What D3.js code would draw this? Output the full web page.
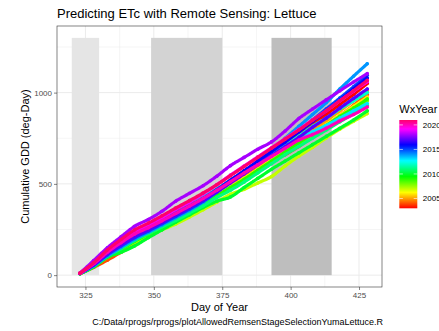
<!DOCTYPE html>
<html>
<head>
<meta charset="utf-8">
<script src="https://cdn.jsdelivr.net/npm/d3@7"></script>
<style>
  body { margin: 0; background: #fff; }
  svg { display: block; font-family: "Liberation Sans", Arial, sans-serif; }
</style>
</head>
<body>
<div id="chart"></div>
<script>
// sample days (day of year, continuing past 365)
const days = [323,328,333,338,343,348,353,358,363,368,373,378,383,388,393,398,403,408,413,418,423,428];
const years = [2003,2004,2005,2006,2007,2008,2009,2010,2011,2012,2013,2014,2015,2016,2017,2018,2019,2020,2021];

// cumulative GDD per weather year, read at the sample days
const gdd2003 = [10,62,130,185,235,270,305,345,385,425,470,520,570,620,670,720,770,825,880,935,990,1050];
const gdd2004 = [8,42,82,125,165,212,262,305,345,390,440,490,540,590,630,660,705,760,820,875,930,990];
const gdd2005 = [9,55,115,165,210,245,285,325,365,405,450,500,550,600,645,690,740,790,845,900,955,1010];
const gdd2006 = [9,52,108,155,200,235,275,315,355,395,440,485,530,580,630,680,730,775,825,875,925,975];
const gdd2007 = [8,48,98,140,180,215,248,280,318,358,400,443,470,505,540,598,652,700,752,800,843,885];
const gdd2008 = [9,50,105,150,195,232,270,305,345,385,430,475,520,570,620,670,720,765,815,860,910,955];
const gdd2009 = [8,47,100,140,185,225,265,305,345,390,435,480,525,575,625,675,725,775,820,870,915,965];
const gdd2010 = [8,45,98,125,160,205,248,290,330,370,405,428,480,530,580,625,670,715,760,805,850,900];
const gdd2011 = [9,50,105,145,190,228,265,300,340,380,425,465,510,560,610,660,705,750,795,840,885,930];
const gdd2012 = [10,58,120,170,215,250,290,330,372,415,460,510,560,610,660,710,762,815,860,910,955,1000];
const gdd2013 = [10,62,128,180,228,262,300,340,380,425,470,520,565,610,655,700,745,785,820,860,900,940];
const gdd2014 = [10,52,105,152,197,235,275,315,355,400,455,510,565,625,685,750,815,880,945,1020,1090,1158];
const gdd2015 = [9,55,112,160,205,242,282,322,362,405,455,508,562,618,675,730,790,850,910,970,1032,1095];
const gdd2016 = [10,60,122,175,222,258,298,338,378,420,468,520,572,625,678,730,785,842,900,958,1020,1080];
const gdd2017 = [9,56,115,165,210,248,288,328,368,410,455,505,555,605,655,705,755,810,860,915,968,1020];
const gdd2018 = [11,80,150,210,268,305,350,405,448,490,542,600,645,690,730,790,858,910,960,1010,1058,1104];
const gdd2019 = [10,65,132,188,238,275,315,360,400,445,495,548,598,648,698,748,798,850,900,955,1008,1060];
const gdd2020 = [10,62,125,178,225,260,298,338,378,420,465,512,560,605,650,695,740,770,805,845,880,921];
const gdd2021 = [11,68,138,195,248,285,325,368,408,450,495,545,595,645,695,745,795,848,900,955,1010,1067];

// growth stage windows (shaded)
const stageStart = [320, 349, 393];
const stageEnd = [330, 375, 415];
const stageTop = 1300;

const xTicks = [325, 350, 375, 400, 425];
const xMinor = [337.5, 362.5, 387.5, 412.5];
const yTicks = [0, 500, 1000];
const yMinor = [250, 750, 1250];
const legendTicks = [2005, 2010, 2015, 2020];

const gddSeries = [gdd2003,gdd2004,gdd2005,gdd2006,gdd2007,gdd2008,gdd2009,gdd2010,gdd2011,gdd2012,
                   gdd2013,gdd2014,gdd2015,gdd2016,gdd2017,gdd2018,gdd2019,gdd2020,gdd2021];

const width = 439, height = 331;
const pLeft = 57, pRight = 382, pTop = 26, pBottom = 287;
const stageFills = ['#e5e5e5', '#d3d3d3', '#bebebe'];

const svg = d3.select('#chart').append('svg')
    .attr('width', width)
    .attr('height', height);

svg.append('rect').attr('width', width).attr('height', height).attr('fill', '#fff');

const x = d3.scaleLinear().domain([314.6, 433.4]).range([pLeft, pRight]);
const y = d3.scaleLinear().domain([-65, 1365]).range([pBottom, pTop]);
const hue = d3.scaleLinear().domain([2003, 2021]).range([0, 335]);
const colorOf = yr => d3.hsl(hue(yr), 1, 0.5).formatHex();

// grid
const grid = svg.append('g').attr('stroke', '#ebebeb').attr('fill', 'none');
grid.selectAll('.xminor').data(xMinor).enter().append('line')
    .attr('x1', d => x(d)).attr('x2', d => x(d)).attr('y1', pTop).attr('y2', pBottom)
    .attr('stroke-width', 0.5);
grid.selectAll('.yminor').data(yMinor).enter().append('line')
    .attr('y1', d => y(d)).attr('y2', d => y(d)).attr('x1', pLeft).attr('x2', pRight)
    .attr('stroke-width', 0.5);
grid.selectAll('.xmajor').data(xTicks).enter().append('line')
    .attr('x1', d => x(d)).attr('x2', d => x(d)).attr('y1', pTop).attr('y2', pBottom)
    .attr('stroke-width', 1);
grid.selectAll('.ymajor').data(yTicks).enter().append('line')
    .attr('y1', d => y(d)).attr('y2', d => y(d)).attr('x1', pLeft).attr('x2', pRight)
    .attr('stroke-width', 1);

// stage windows
svg.append('g').selectAll('rect')
    .data(stageStart)
    .enter().append('rect')
    .attr('x', d => x(d))
    .attr('width', (d, i) => x(stageEnd[i]) - x(d))
    .attr('y', y(stageTop))
    .attr('height', y(0) - y(stageTop))
    .attr('fill', (d, i) => stageFills[i]);

// series
const line = d3.line()
    .x((d, i) => x(days[i]))
    .y(d => y(d))
    .curve(d3.curveMonotoneX);

const seriesG = svg.append('g');
gddSeries.forEach((vals, k) => {
    const col = colorOf(years[k]);
    seriesG.append('path')
        .attr('d', line(vals))
        .attr('fill', 'none')
        .attr('stroke', col)
        .attr('stroke-width', 3.2)
        .attr('stroke-linecap', 'round')
        .attr('stroke-linejoin', 'round')
        .attr('stroke-dasharray', '2.2,0.6');
    seriesG.selectAll(null).data(vals).enter().append('circle')
        .attr('cx', (d, i) => x(days[i]))
        .attr('cy', d => y(d))
        .attr('r', 1.8)
        .attr('fill', col);
});

// panel border
svg.append('rect')
    .attr('x', pLeft).attr('y', pTop)
    .attr('width', pRight - pLeft).attr('height', pBottom - pTop)
    .attr('fill', 'none').attr('stroke', '#333').attr('stroke-width', 0.6);

// axes
const xAxis = svg.append('g')
    .attr('transform', 'translate(0,' + pBottom + ')')
    .call(d3.axisBottom(x).tickValues(xTicks).tickSize(3).tickPadding(2).tickFormat(d3.format('d')));
const yAxis = svg.append('g')
    .attr('transform', 'translate(' + pLeft + ',0)')
    .call(d3.axisLeft(y).tickValues(yTicks).tickSize(3).tickPadding(2).tickFormat(d3.format('d')));
[xAxis, yAxis].forEach(a => {
    a.select('.domain').remove();
    a.selectAll('line').attr('stroke', '#333').attr('stroke-width', 0.6);
    a.selectAll('text').attr('fill', '#4d4d4d').style('font-size', '8px')
        .style('font-family', '"Liberation Sans", Arial, sans-serif');
});

// titles
svg.append('text')
    .attr('x', pLeft).attr('y', 17.5)
    .style('font-size', '13px').attr('fill', '#000')
    .text('Predicting ETc with Remote Sensing: Lettuce');

svg.append('text')
    .attr('x', (pLeft + pRight) / 2).attr('y', 311)
    .attr('text-anchor', 'middle')
    .style('font-size', '11px').attr('fill', '#000')
    .text('Day of Year');

svg.append('text')
    .attr('transform', 'translate(28.5,' + ((pTop + pBottom) / 2) + ') rotate(-90)')
    .attr('text-anchor', 'middle')
    .style('font-size', '11px').attr('fill', '#000')
    .text('Cumulative GDD (deg-Day)');

svg.append('text')
    .attr('x', pRight + 1).attr('y', 325)
    .attr('text-anchor', 'end')
    .style('font-size', '9px').attr('fill', '#000')
    .text('C:/Data/rprogs/rprogs/plotAllowedRemsenStageSelectionYumaLettuce.R');

// colour bar legend
const barX = 399.3, barW = 18;
const ly = d3.scaleLinear().domain([2003, 2021]).range([208.3, 120]);

const grad = svg.append('defs').append('linearGradient')
    .attr('id', 'wxgrad')
    .attr('x1', 0).attr('y1', 1).attr('x2', 0).attr('y2', 0);
grad.selectAll('stop')
    .data(d3.range(0, 1.0001, 0.02))
    .enter().append('stop')
    .attr('offset', d => d)
    .attr('stop-color', d => colorOf(2003 + d * 18));

svg.append('text')
    .attr('x', barX).attr('y', 113)
    .style('font-size', '11px').attr('fill', '#000')
    .text('WxYear');

svg.append('rect')
    .attr('x', barX).attr('y', ly(2021))
    .attr('width', barW).attr('height', ly(2003) - ly(2021))
    .attr('fill', 'url(#wxgrad)');

const lt = svg.append('g');
lt.selectAll('.tl').data(legendTicks).enter().append('line')
    .attr('x1', barX).attr('x2', barX + 3.6)
    .attr('y1', d => ly(d)).attr('y2', d => ly(d))
    .attr('stroke', '#fff').attr('stroke-width', 0.6);
lt.selectAll('.tr').data(legendTicks).enter().append('line')
    .attr('x1', barX + barW - 3.6).attr('x2', barX + barW)
    .attr('y1', d => ly(d)).attr('y2', d => ly(d))
    .attr('stroke', '#fff').attr('stroke-width', 0.6);
// labels run past the right edge, as in the reference
lt.selectAll('text').data(legendTicks).enter().append('text')
    .attr('x', barX + barW + 5.5)
    .attr('y', d => ly(d))
    .attr('dy', '0.35em')
    .style('font-size', '8px').attr('fill', '#000')
    .text(d => d);
</script>
</body>
</html>
